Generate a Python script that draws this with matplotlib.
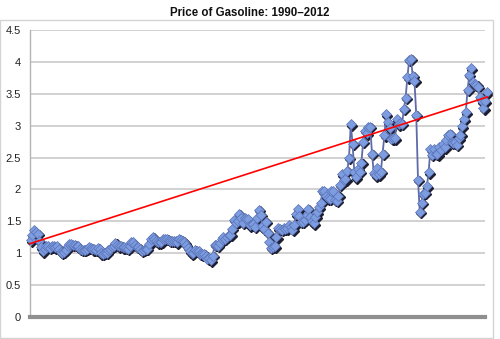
import numpy as np
import matplotlib
matplotlib.use("Agg")
from matplotlib import pyplot as plt
from matplotlib import transforms
from matplotlib.patches import Rectangle

# monthly average US regular gasoline price, $/gal, Aug 1990 - Feb 2012
start_year = 1990.625
prices = [
    # 1990 (Aug-Dec)
    1.20, 1.29, 1.36, 1.33, 1.30,
    # 1991
    1.19, 1.09, 1.03, 1.07, 1.12, 1.11, 1.08, 1.11, 1.11, 1.09, 1.11, 1.07,
    # 1992
    1.02, 1.01, 1.02, 1.05, 1.11, 1.14, 1.14, 1.13, 1.13, 1.12, 1.11, 1.07,
    # 1993
    1.05, 1.05, 1.05, 1.07, 1.09, 1.08, 1.06, 1.06, 1.05, 1.08, 1.06, 1.00,
    # 1994
    0.99, 1.01, 1.01, 1.05, 1.07, 1.10, 1.12, 1.16, 1.13, 1.11, 1.12, 1.09,
    # 1995
    1.09, 1.08, 1.07, 1.11, 1.18, 1.17, 1.13, 1.10, 1.09, 1.07, 1.04, 1.05,
    # 1996
    1.07, 1.07, 1.14, 1.22, 1.26, 1.22, 1.19, 1.17, 1.17, 1.18, 1.23, 1.23,
    # 1997
    1.23, 1.21, 1.19, 1.19, 1.19, 1.19, 1.17, 1.23, 1.21, 1.19, 1.17, 1.13,
    # 1998
    1.08, 1.03, 1.00, 1.01, 1.05, 1.04, 1.03, 0.99, 0.98, 0.99, 0.96, 0.91,
    # 1999
    0.92, 0.89, 0.96, 1.13, 1.13, 1.12, 1.16, 1.23, 1.25, 1.23, 1.26, 1.29,
    # 2000
    1.29, 1.38, 1.52, 1.48, 1.50, 1.62, 1.55, 1.48, 1.55, 1.53, 1.53, 1.44,
    # 2001
    1.45, 1.45, 1.41, 1.55, 1.68, 1.60, 1.42, 1.38, 1.49, 1.32, 1.18, 1.08,
    # 2002
    1.10, 1.11, 1.25, 1.39, 1.38, 1.37, 1.39, 1.38, 1.39, 1.44, 1.41, 1.37,
    # 2003
    1.44, 1.61, 1.69, 1.59, 1.49, 1.49, 1.52, 1.60, 1.70, 1.56, 1.50, 1.47,
    # 2004
    1.57, 1.64, 1.72, 1.79, 1.97, 1.97, 1.89, 1.86, 1.85, 1.98, 1.97, 1.84,
    # 2005
    1.82, 1.90, 2.07, 2.24, 2.14, 2.16, 2.29, 2.50, 3.02, 2.72, 2.27, 2.19,
    # 2006
    2.32, 2.28, 2.42, 2.75, 2.92, 2.88, 2.98, 2.98, 2.56, 2.26, 2.22, 2.33,
    # 2007
    2.24, 2.28, 2.56, 2.85, 3.18, 3.05, 2.96, 2.79, 2.80, 2.80, 3.10, 3.02,
    # 2008
    3.04, 3.03, 3.26, 3.44, 3.76, 4.03, 4.05, 3.78, 3.70, 3.17, 2.15, 1.65,
    # 2009
    1.79, 1.93, 1.95, 2.05, 2.27, 2.63, 2.54, 2.63, 2.56, 2.55, 2.66, 2.62,
    # 2010
    2.72, 2.66, 2.78, 2.86, 2.87, 2.74, 2.73, 2.74, 2.70, 2.80, 2.86, 2.99,
    # 2011
    3.10, 3.21, 3.56, 3.80, 3.90, 3.68, 3.65, 3.64, 3.61, 3.45, 3.38, 3.27,
    # 2012 (Jan-Feb)
    3.38, 3.52,
]

# red trend line end values
trend_years = [1990.6, 2012.15]
trend_values = [1.15, 3.45]

title = "Price of Gasoline: 1990\u20132012"
y_ticks = [0, 0.5, 1, 1.5, 2, 2.5, 3, 3.5, 4, 4.5]

plt.rcParams['font.family'] = ['Liberation Sans', 'DejaVu Sans']

years = start_year + np.arange(len(prices)) / 12.0

fig = plt.figure(figsize=(5, 3.39), dpi=100)
fig.patch.set_facecolor('white')
ax = fig.add_axes([0.06, 0.065, 0.91, 0.8465])

# outer chart frame
fig.patches.append(Rectangle((0.0, 0.003), 0.986, 0.938, transform=fig.transFigure,
                             fill=False, edgecolor='#d4d4d4', lw=1.0))

for v in y_ticks[1:]:
    ax.axhline(v, color='#c9c9c9', lw=1.2, zorder=1)

# shadow under the markers
shadow = transforms.offset_copy(ax.transData, fig=fig, x=0.8, y=-1.0, units='points')
ax.plot(years, prices, linestyle='none', marker='D', markersize=4.8,
        color='#1e1e30', transform=shadow, zorder=2, clip_on=False)
ax.plot(years, prices, color='#5f6aa8', lw=1.3, marker='D', markersize=4.8,
        markerfacecolor='#7d9de0', markeredgecolor='#5c74b8', markeredgewidth=0.5,
        zorder=3, clip_on=False)

ax.plot(trend_years, trend_values, color='#ff0000', lw=1.2, zorder=4, clip_on=False)

ax.set_xlim(1990.6, 2012.03)
ax.set_ylim(0, 4.5)
ax.set_yticks(y_ticks)
ax.set_yticklabels([f"{v:g}" for v in y_ticks])
ax.set_xticks([])
ax.tick_params(axis='y', length=0, pad=6.5, labelsize=8, labelcolor='#222222')

for side in ['top', 'right']:
    ax.spines[side].set_visible(False)
ax.spines['left'].set_color('#b4b4b4')
ax.spines['left'].set_linewidth(1.0)
ax.spines['bottom'].set_color('#8f8f8f')
ax.spines['bottom'].set_linewidth(3.0)
ax.spines['bottom'].set_zorder(5)

fig.text(0.5, 0.963, title, ha='center', va='center', fontsize=8.3,
         fontweight='bold', color='#111111')

fig.savefig('out.png', dpi=100)
